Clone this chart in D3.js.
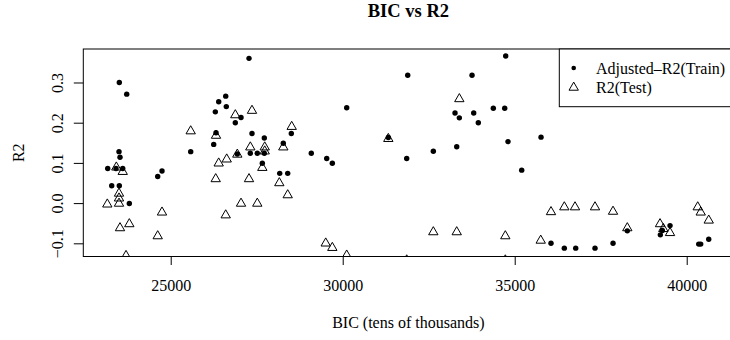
<!DOCTYPE html>
<html>
<head>
<meta charset="utf-8">
<script src="https://cdn.jsdelivr.net/npm/d3@7"></script>
<style>
  html, body { margin: 0; padding: 0; background: #fff; }
  svg { display: block; font-family: "Liberation Serif", "Times New Roman", serif; }
  svg text { font-family: "Liberation Serif", "Times New Roman", serif; }
</style>
</head>
<body>
<svg id="chart" width="730" height="340"></svg>
<script>
// ---- data ----
const chartTitle = "BIC vs R2";
const xLabel = "BIC (tens of thousands)";
const yLabel = "R2";
const seriesNames = ["Adjusted\u2013R2(Train)", "R2(Test)"];

const xTicks = [25000, 30000, 35000, 40000];
const yTicks = [-0.1, 0.0, 0.1, 0.2, 0.3];
const xLimits = [22459, 41360];
const yLimits = [-0.1328, 0.3833];

const bicTrain = [23506, 23721, 23497, 23526, 23169, 23410, 23605, 23285, 23506, 23797,
  24622, 24747, 25581, 26250, 26317, 26297, 26395, 26599, 26616, 26878,
  27044, 26936, 27276, 27363, 28506, 27721, 28273, 27314, 27517, 27721,
  27663, 29087, 29535, 29698, 28169, 28401, 30116, 31326, 31860, 31890,
  34738, 33759, 33265, 33390, 33808, 33942, 34378, 34709, 34805, 35765,
  32634, 33314, 35203, 36055, 36442, 36773, 37334, 37858, 38273, 39233,
  39291, 39515, 40349, 40407, 40640];
const r2Train = [0.300, 0.271, 0.128, 0.114, 0.086, 0.086, 0.086, 0.043, 0.043, -0.001,
  0.066, 0.080, 0.128, 0.146, 0.175, 0.227, 0.252, 0.266, 0.240, 0.200,
  0.213, 0.122, 0.360, 0.173, 0.173, 0.162, 0.149, 0.124, 0.124, 0.124,
  0.099, 0.124, 0.111, 0.099, 0.074, 0.074, 0.237, 0.163, 0.111, 0.318,
  0.366, 0.318, 0.224, 0.212, 0.224, 0.200, 0.236, 0.236, 0.153, 0.164,
  0.129, 0.140, 0.082, -0.100, -0.112, -0.112, -0.112, -0.100, -0.069, -0.079,
  -0.068, -0.056, -0.102, -0.102, -0.090];

const bicTest = [23157, 23419, 23605, 23497, 23497, 23497, 23526, 23797, 23701, 24747,
  24622, 25581, 26317, 26395, 26628, 26308, 26599, 26878, 26936, 27044,
  27363, 28517, 27314, 27733, 27733, 28273, 27663, 27276, 28157, 28401,
  27517, 29506, 29698, 30116, 31326, 31860, 33390, 32634, 33314, 34727,
  34727, 35756, 36055, 36442, 36753, 37334, 37858, 38273, 39224, 39320,
  39515, 40320, 40407, 40640];
const r2Test = [-0.003, 0.089, 0.078, 0.024, 0.012, -0.001, -0.062, -0.052, -0.131, -0.023,
  -0.082, 0.179, 0.168, 0.099, 0.109, 0.060, -0.030, 0.219, 0.121, -0.001,
  0.230, 0.190, 0.139, 0.139, 0.129, 0.139, 0.088, 0.060, 0.050, 0.020,
  -0.001, -0.100, -0.111, -0.130, 0.160, -0.142, 0.259, -0.072, -0.072, -0.082,
  -0.142, -0.093, -0.022, -0.010, -0.010, -0.010, -0.021, -0.062, -0.052, -0.064,
  -0.074, -0.010, -0.023, -0.043];

// ---- layout ----
const plot = { left: 83.3, right: 733.5, top: 49, bottom: 256.5 };
const serif = "'Liberation Serif', 'Times New Roman', serif";

const svg = d3.select("#chart");
const x = d3.scaleLinear().domain(xLimits).range([plot.left, plot.right]);
const y = d3.scaleLinear().domain(yLimits).range([plot.bottom, plot.top]);

svg.append("defs").append("clipPath").attr("id", "clip")
  .append("rect")
  .attr("x", plot.left).attr("y", plot.top)
  .attr("width", plot.right - plot.left).attr("height", plot.bottom - plot.top);

// title
svg.append("text")
  .attr("x", (plot.left + plot.right) / 2).attr("y", 17)
  .attr("text-anchor", "middle")
  .attr("font-weight", "bold").attr("font-size", 18.5)
  .text(chartTitle);

// x axis
const xAxis = svg.append("g")
  .attr("transform", `translate(0,${plot.bottom})`)
  .call(d3.axisBottom(x).tickValues(xTicks).tickFormat(d3.format("d"))
    .tickSize(8.5).tickSizeOuter(0).tickPadding(14.3))
  .attr("font-family", null).attr("font-size", null);
xAxis.select(".domain").remove();
xAxis.selectAll("text").style("font-size", "16px").style("font-family", serif).attr("fill", "#000");
xAxis.selectAll("line").attr("stroke", "#000");

// y axis
const yAxis = svg.append("g")
  .attr("transform", `translate(${plot.left},0)`)
  .call(d3.axisLeft(y).tickValues(yTicks).tickFormat(d3.format(".1f"))
    .tickSize(9.5).tickSizeOuter(0))
  .attr("font-family", null).attr("font-size", null);
yAxis.select(".domain").remove();
yAxis.selectAll("line").attr("stroke", "#000");
yAxis.selectAll("text")
  .style("font-size", "16px").style("font-family", serif).attr("fill", "#000")
  .attr("text-anchor", "middle")
  .attr("dy", null).attr("x", 0).attr("y", -20)
  .attr("transform", "rotate(-90)");

// axis titles
svg.append("text")
  .attr("x", (plot.left + plot.right) / 2).attr("y", 327.5)
  .attr("text-anchor", "middle").attr("font-size", 16)
  .text(xLabel);
svg.append("text")
  .attr("transform", `translate(24,${(plot.top + plot.bottom) / 2}) rotate(-90)`)
  .attr("text-anchor", "middle").attr("font-size", 16)
  .text(yLabel);

// points
const g = svg.append("g").attr("clip-path", "url(#clip)");
const train = bicTrain.map((b, i) => ({ b, r: r2Train[i] }));
const test = bicTest.map((b, i) => ({ b, r: r2Test[i] }));

const tri = d3.symbol().type(d3.symbolTriangle).size(38);

g.selectAll("circle.train").data(train).join("circle")
  .attr("class", "train")
  .attr("cx", d => x(d.b)).attr("cy", d => y(d.r)).attr("r", 2.7)
  .attr("fill", "#000");

g.selectAll("path.test").data(test).join("path")
  .attr("class", "test")
  .attr("transform", d => `translate(${x(d.b)},${y(d.r)})`)
  .attr("d", tri)
  .attr("fill", "none").attr("stroke", "#000").attr("stroke-width", 1);

// box
svg.append("rect")
  .attr("x", plot.left).attr("y", plot.top)
  .attr("width", plot.right - plot.left).attr("height", plot.bottom - plot.top)
  .attr("fill", "none").attr("stroke", "#000").attr("stroke-width", 1);

// legend
const leg = svg.append("g");
leg.append("rect")
  .attr("x", 559.3).attr("y", plot.top)
  .attr("width", plot.right - 559.3).attr("height", 106.7 - plot.top)
  .attr("fill", "#fff").attr("stroke", "#000").attr("stroke-width", 1);
const legRows = [68, 87.5];
leg.append("circle").attr("cx", 573.7).attr("cy", legRows[0]).attr("r", 2.3).attr("fill", "#000");
leg.append("path").attr("transform", `translate(573.7,${legRows[1]})`).attr("d", tri)
  .attr("fill", "none").attr("stroke", "#000");
seriesNames.forEach((s, i) => {
  leg.append("text").attr("x", 596).attr("y", legRows[i] + 5.8 - (i ? 0.3 : 0))
    .attr("font-size", 16).text(s);
});
</script>
</body>
</html>
